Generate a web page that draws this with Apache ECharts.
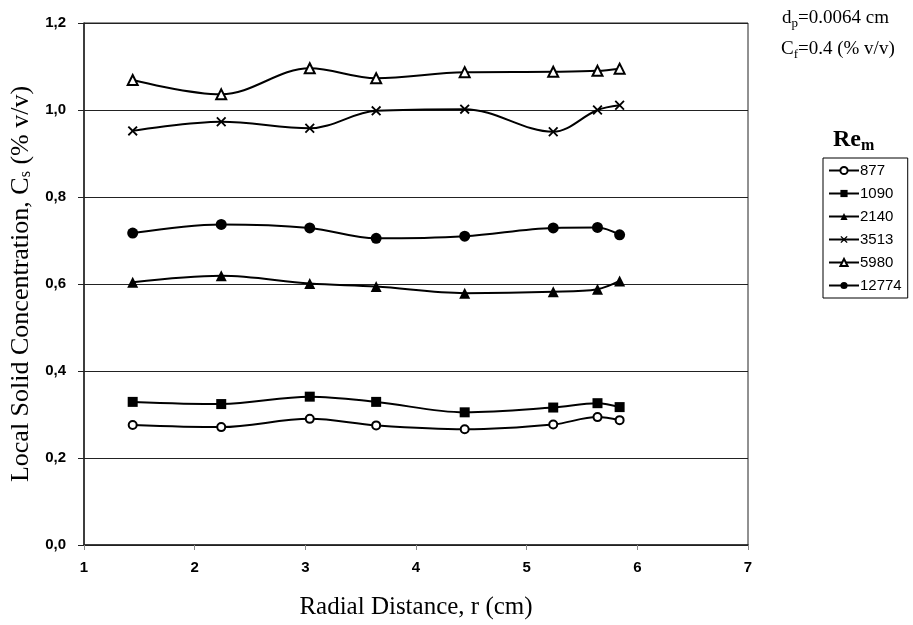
<!DOCTYPE html>
<html>
<head>
<meta charset="utf-8">
<script src="https://cdn.jsdelivr.net/npm/echarts@6/dist/echarts.min.js"></script>
<style>html,body{margin:0;padding:0;background:#fff}#c{width:913px;height:625px}</style>
</head>
<body>
<div id="c"></div>
<script>
// Radial positions (cm)
const radial = [1.44, 2.24, 3.04, 3.64, 4.44, 5.24, 5.64, 5.84];
// Series names (Re_m)
const names = ['877', '1090', '2140', '3513', '5980', '12774'];
// Local solid concentration values (% v/v)
const re877   = [0.276, 0.271, 0.290, 0.275, 0.266, 0.277, 0.294, 0.287];
const re1090  = [0.329, 0.324, 0.341, 0.329, 0.305, 0.316, 0.326, 0.317];
const re2140  = [0.604, 0.619, 0.601, 0.594, 0.579, 0.582, 0.588, 0.607];
const re3513  = [0.952, 0.973, 0.958, 0.998, 1.002, 0.950, 1.000, 1.011];
const re5980  = [1.069, 1.036, 1.096, 1.073, 1.087, 1.088, 1.090, 1.095];
const re12774 = [0.717, 0.737, 0.729, 0.705, 0.710, 0.729, 0.730, 0.713];
const yTicks = [0, 0.2, 0.4, 0.6, 0.8, 1.0, 1.2];
const xTicks = [1, 2, 3, 4, 5, 6, 7];

const values = [re877, re1090, re2140, re3513, re5980, re12774];
const xPath = 'path://M0,1.3L1.3,0L5,3.7L8.7,0L10,1.3L6.3,5L10,8.7L8.7,10L5,6.3L1.3,10L0,8.7L3.7,5Z';
const symbols = ['emptyCircle', 'rect', 'triangle', xPath, 'emptyTriangle', 'circle'];
const sizes = [8, 10, 11, 10, 10, 11];

const series = names.map((n, i) => ({
  name: n,
  type: 'line',
  smooth: 0.35,
  data: radial.map((x, j) => [x, values[i][j]]),
  symbol: symbols[i],
  symbolSize: sizes[i],
  showAllSymbol: true,
  lineStyle: { color: '#000', width: 2 },
  itemStyle: { color: '#000', borderColor: '#000', borderWidth: (i === 0 || i === 4) ? 2.2 : 0 },
  emphasis: { disabled: true }
}));

const chart = echarts.init(document.getElementById('c'), null, { renderer: 'canvas' });
const serif = '"Liberation Serif", "Times New Roman", serif';
const sans = '"Liberation Sans", Arial, sans-serif';
const subRich = (fs, sfs, pad) => ({
  a: { fontFamily: serif, fontSize: fs, fill: '#000', color: '#000' },
  s: { fontFamily: serif, fontSize: sfs, fill: '#000', color: '#000', padding: [pad, 0, 0, 0] }
});
chart.setOption({
  animation: false,
  backgroundColor: '#fff',
  grid: { left: 84, right: 165, top: 23, bottom: 80, show: true, borderColor: '#222', borderWidth: 1,
          containLabel: false, outerBoundsMode: 'none' },
  xAxis: {
    type: 'value', min: xTicks[0], max: xTicks[xTicks.length - 1], interval: 1,
    axisLine: { show: true, lineStyle: { color: '#222', width: 1.5 } },
    axisTick: { show: true, length: 5, lineStyle: { color: '#888' } },
    splitLine: { show: false },
    axisLabel: { color: '#000', fontFamily: sans, fontWeight: 'bold', fontSize: 15, margin: 15 },
    name: 'Radial Distance, r (cm)', nameLocation: 'middle', nameGap: 50,
    nameTextStyle: { color: '#000', fontFamily: serif, fontSize: 25 }
  },
  yAxis: {
    type: 'value', min: yTicks[0], max: yTicks[yTicks.length - 1], interval: 0.2,
    axisLine: { show: true, lineStyle: { color: '#222', width: 1.5 } },
    axisTick: { show: true, length: 6, lineStyle: { color: '#222' } },
    splitLine: { show: true, lineStyle: { color: '#222', width: 1.2 } },
    axisLabel: { color: '#000', fontFamily: sans, fontWeight: 'bold', fontSize: 15, margin: 18,
      formatter: v => v.toFixed(1).replace('.', ',') },
    name: '{a|Local Solid Concentration, C}{s|s}{a| (% v/v)}', nameLocation: 'middle', nameGap: 50, nameRotate: 90,
    nameTextStyle: { color: '#000', fontFamily: serif, fontSize: 26, rich: subRich(26, 16, 10) }
  },
  legend: {
    orient: 'vertical', left: 823, top: 158,
    data: names,
    itemWidth: 30, itemHeight: 9, itemGap: 8,
    padding: [5, 6, 5, 5],
    borderColor: '#000', borderWidth: 1,
    textStyle: { color: '#000', fontFamily: sans, fontSize: 15, padding: [0, 0, 0, -4] },
    selectedMode: false
  },
  graphic: [
    { type: 'text', left: 782, top: 9,
      style: { text: '{a|d}{s|p}{a|=0.0064 cm}', rich: subRich(19, 13, 10) } },
    { type: 'text', left: 781, top: 40,
      style: { text: '{a|C}{s|f}{a|=0.4 (% v/v)}', rich: subRich(19, 13, 10) } },
    { type: 'text', left: 833, top: 128,
      style: { text: '{a|Re}{s|m}', rich: {
        a: { fontFamily: serif, fontSize: 24, fontWeight: 'bold', fill: '#000' },
        s: { fontFamily: serif, fontSize: 16, fontWeight: 'bold', fill: '#000', padding: [12, 0, 0, 0] } } } }
  ],
  series: series
});
</script>
</body>
</html>
